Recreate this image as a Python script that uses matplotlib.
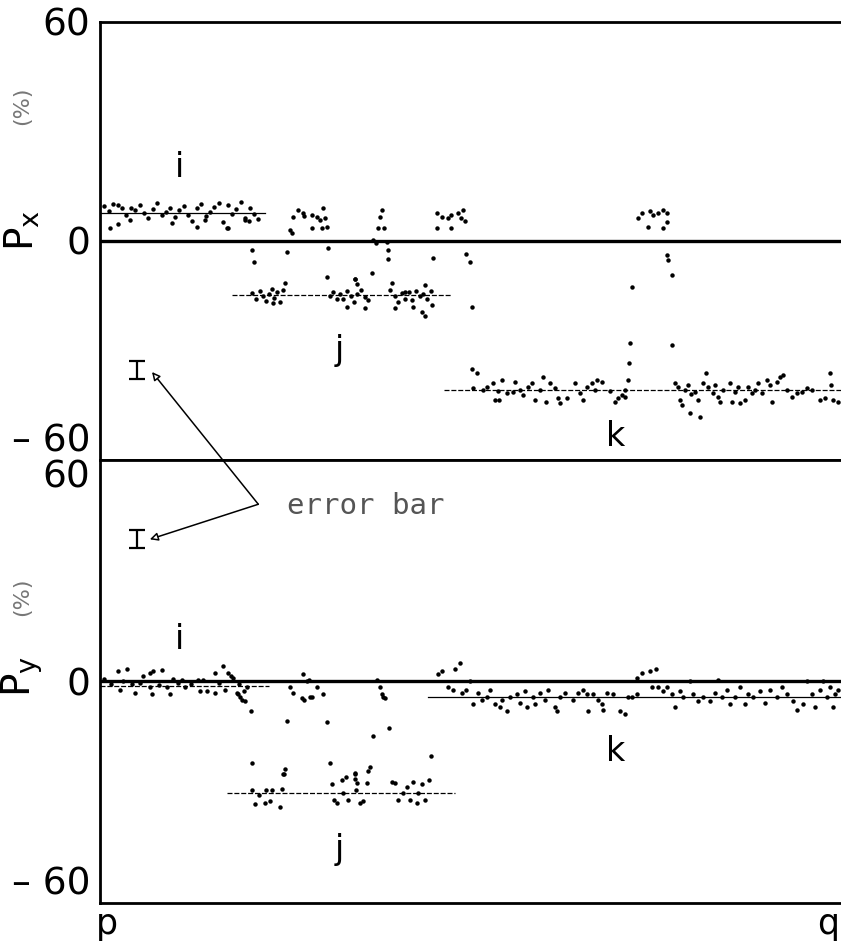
import matplotlib.pyplot as plt

# ---- data (Px, top panel) ----
top_i_x = [0.5, 1.2, 1.8, 2.5, 3.0, 3.6, 4.2, 4.8, 5.4, 6.0, 6.6, 7.2, 7.8, 8.4, 9.0, 9.6, 10.2, 10.8,
           11.4, 12.0, 12.6, 13.2, 13.8, 14.4, 15.0, 15.6, 16.2, 16.8, 17.4, 18.0, 18.6, 19.2, 19.8,
           20.4, 21.0, 21.6, 1.4, 2.5, 4.1, 9.8, 13.2, 14.3, 17.3, 19.8, 20.3]
top_i_y = [9.5, 8.2, 10.1, 9.8, 8.9, 7.1, 9.0, 8.6, 9.9, 7.6, 6.4, 8.8, 10.3, 7.2, 8.0, 9.1, 6.5, 8.4,
           9.7, 7.0, 5.6, 8.9, 10.1, 6.8, 7.9, 9.4, 10.4, 5.2, 9.9, 7.5, 8.7, 10.6, 6.2,
           9.0, 7.4, 6.0, 3.6, 4.7, 5.8, 4.9, 3.8, 5.8, 3.6, 5.8, 5.5]

top_j_x = [20.7, 21.3, 21.8, 22.2, 22.6, 23.0, 23.4, 23.8, 24.2, 24.6, 25.0, 23.6, 25.2,
           31.4, 31.8, 32.3, 32.8, 33.2, 33.7, 34.2, 34.6, 35.1, 35.6, 36.2, 36.6, 33.7, 36.2, 34.8, 35.0,
           39.6, 40.2, 40.7, 41.2, 41.6, 42.1, 42.6, 43.1, 43.6, 44.1, 44.6, 45.1, 40.2, 42.7, 44.0,
           44.3, 45.3, 39.8, 44.3, 41.6]
top_j_y = [-14.2, -15.8, -13.6, -15.0, -16.4, -14.4, -13.2, -15.6, -14.0, -16.8, -13.4, -17.0, -11.5,
           -15.0, -14.0, -15.8, -14.4, -16.0, -13.8, -15.2, -16.6, -14.6, -13.4, -15.4, -16.2, -18.0, -18.4, -10.4, -11.8,
           -13.4, -15.2, -16.8, -14.2, -15.8, -14.0, -16.2, -13.6, -15.0, -14.4, -16.0, -13.8, -18.4, -18.0, -19.5,
           -20.5, -17.5, -11.5, -12.0, -14.0]

top_up_x = [26.3, 27.0, 27.7, 27.9, 28.9, 29.6, 30.0, 30.4, 30.7, 28.9, 30.3, 31.0, 26.2, 25.9,
            38.5, 38.2, 37.9, 38.7, 37.2, 37.6, 39.2, 39.3,
            46.0, 46.6, 47.5, 47.9, 48.8, 49.3, 49.8, 46.0, 47.9, 49.5,
            73.4, 74.0, 75.4, 76.1, 76.8, 77.4, 77.3, 74.8, 76.8, 75.0]
top_up_y = [6.6, 8.5, 7.7, 6.8, 7.1, 6.6, 5.8, 9.0, 6.3, 3.6, 3.6, 3.8, 2.2, 3.0,
            8.5, 6.6, 3.6, 3.6, 0.3, -0.5, -0.3, -2.5,
            7.7, 6.6, 6.3, 7.1, 7.7, 6.3, 5.5, 3.6, 3.6, 8.5,
            6.3, 7.7, 7.1, 7.7, 8.5, 7.7, 5.2, 3.8, 3.6, 8.2]

top_tr_x = [17.5, 20.7, 21.0, 25.5, 31.1, 31.0, 34.8, 37.1, 39.3, 45.4, 50.0, 50.5, 50.7,
            72.6, 72.3, 72.2, 72.0, 77.3, 77.5, 78.0, 78.0]
top_tr_y = [3.6, -2.5, -5.8, -3.0, -1.9, -10.0, -10.4, -8.8, -5.0, -4.7, -3.6, -5.8, -18.0,
            -12.6, -27.9, -33.4, -38.1, -3.8, -5.2, -9.3, -28.5]

top_k_x = [50.7, 51.4, 50.9, 52.3, 52.8, 53.6, 53.9, 54.3, 54.4, 54.8, 55.5, 56.4, 56.6, 57.3, 57.7,
           58.4, 58.9, 59.3, 60.0, 60.5, 60.8, 61.4, 62.1, 62.5, 62.8, 63.7, 64.8, 65.5, 65.9, 66.4,
           67.1, 67.5, 67.8, 68.5, 69.6, 70.3, 70.7, 71.2, 71.6, 71.6,
           78.4, 78.9, 79.1, 79.4, 79.8, 80.2, 80.5, 80.7, 81.2, 81.6, 81.9, 82.3, 82.7, 83.0, 83.7,
           83.9, 84.3, 84.6, 85.0, 85.9, 86.2, 86.6, 87.0, 87.3, 88.0, 88.4, 88.9, 89.4, 89.8, 90.3,
           91.0, 91.4, 91.7, 92.4, 92.8, 93.2, 93.7, 94.4, 95.1, 95.8, 96.5, 97.1, 98.2, 98.9, 99.6,
           99.7, 100.0, 100.7]
top_k_y = [-35.0, -36.2, -40.3, -40.8, -40.0, -38.9, -43.6, -41.1, -43.6, -38.1, -41.6, -41.4, -38.6, -40.8, -42.2,
           -40.0, -38.9, -43.6, -40.8, -37.3, -44.1, -38.9, -40.3, -43.0, -44.4, -43.0, -38.9, -41.6, -43.6, -40.0,
           -38.9, -40.8, -38.1, -38.6, -41.1, -44.1, -43.0, -42.2, -40.8, -42.7,
           -38.9, -40.0, -43.6, -44.9, -40.8, -39.5, -47.1, -42.0, -41.4, -43.6, -48.2, -38.9, -36.2, -40.0, -41.6,
           -39.5, -42.7, -44.1, -40.8, -38.9, -44.1, -41.4, -40.0, -44.4, -43.6, -40.0, -41.6, -40.8, -38.9, -41.6,
           -38.1, -39.5, -44.1, -38.6, -37.3, -36.7, -40.8, -42.7, -41.6, -41.4, -40.3, -40.8, -43.6, -43.0, -36.2,
           -39.5, -43.6, -44.1]

# mean levels and their spans
top_means = [7.7, -14.8, -40.8]
top_spans = [(0, 22.5), (18, 48), (47, 101.1)]
top_styles = ['-', (0, (4, 1.5)), (0, (4, 1.5))]

# ---- data (Py, bottom panel) ----
bot_i_x = [2.5, 3.7, 5.9, 6.8, 7.2, 8.5, 11.2, 13.4, 15.7, 16.8, 17.5, 17.9,
           2.7, 4.8, 6.8, 7.1, 9.1, 9.5, 11.6, 13.6, 14.6, 15.7, 17.0, 18.7, 19.6, 20.1, 19.1,
           0.6, 1.5, 3.2, 4.4, 5.5, 8.0, 10.0, 10.6, 12.4, 14.0, 16.2, 18.2, 19.0, 19.4, 19.8]
bot_i_y = [2.7, 3.3, 1.4, 2.4, 2.7, 3.0, 0.5, 0.5, 2.4, 4.1, 2.4, 1.5,
           -2.2, -3.0, -1.6, -3.5, -1.6, -3.5, -1.6, -2.7, -2.7, -3.0, -2.4, -3.0, -2.7, -1.6, -4.1,
           0.8, -0.6, 0.2, -0.8, -0.3, -0.9, 0.6, -0.5, -0.8, 0.3, -0.4, 1.0, -0.6, -4.9, -5.2]

bot_up_x = [25.9, 26.3, 27.7, 28.2, 28.5, 28.9, 27.6, 29.6, 30.4, 27.9, 28.6, 37.8, 38.2, 38.6, 38.9, 38.5]
bot_up_y = [-1.4, -3.0, 1.9, 0.0, 0.5, -4.3, -4.6, -1.4, -3.5, -4.9, -4.1, 0.5, -1.4, -4.1, -4.6, -3.5]

bot_j_x = [20.7, 21.1, 21.7, 22.5, 22.7, 23.2, 23.5, 24.6, 24.8, 25.0, 25.2, 25.1, 20.7,
           31.6, 31.9, 32.3, 33.0, 33.2, 33.8, 34.8, 35.0, 35.5, 35.9, 36.4, 36.8, 34.9, 31.4, 36.6,
           34.8, 34.8, 33.5,
           39.8, 40.3, 40.7, 41.3, 41.9, 42.3, 42.7, 43.4, 43.9, 44.4, 44.9, 43.2]
bot_j_y = [-29.5, -33.3, -30.7, -32.8, -29.5, -32.5, -29.3, -33.9, -29.0, -25.2, -23.8, -25.1, -22.2,
           -27.9, -32.0, -32.8, -26.6, -30.1, -32.2, -25.2, -27.6, -32.8, -32.5, -27.6, -23.3, -29.5, -22.0, -24.2,
           -24.9, -26.3, -25.9,
           -27.1, -27.6, -32.0, -30.1, -28.5, -32.2, -27.1, -30.1, -27.9, -32.0, -26.6, -32.8]

bot_tr_x = [18.8, 20.6, 25.5, 31.0, 37.2, 39.4, 45.2]
bot_tr_y = [-3.5, -8.1, -10.8, -11.1, -14.9, -12.7, -20.3]

bot_k_x = [46.1, 46.6, 48.4, 49.1, 47.5, 48.2, 49.4, 50.0, 50.5, 50.9,
           51.6, 52.1, 52.8, 53.2, 53.9, 54.6, 54.9, 55.5, 55.9, 56.9,
           57.3, 58.0, 58.3, 59.1, 59.3, 60.0, 60.7, 61.1, 62.1, 62.3,
           62.8, 63.4, 64.5, 65.2, 65.9, 66.4, 66.6, 67.3, 67.9, 68.5,
           68.6, 69.2, 70.0, 70.9, 71.6, 72.0, 72.6, 73.3, 73.3, 74.0,
           75.0, 75.9, 75.3, 76.1, 76.8, 77.3, 78.0, 78.5, 79.1, 79.5,
           80.5, 80.9, 81.6, 82.3, 83.2, 83.9, 84.3, 84.9, 85.5, 85.9,
           86.6, 87.3, 88.0, 88.4, 89.1, 90.0, 90.7, 91.4, 92.4, 93.0,
           93.7, 94.5, 95.1, 95.9, 96.5, 97.1, 97.5, 98.2, 98.6, 99.2,
           99.6, 100.3, 100.7, 100.0]
bot_k_y = [1.9, 2.7, 3.3, 4.9, -1.4, -2.2, -3.0, -2.2, 0.0, -6.2,
           -3.0, -4.9, -4.1, -2.2, -6.2, -7.0, -4.9, -8.1, -4.1, -3.5,
           -5.7, -2.7, -7.0, -4.3, -6.2, -3.0, -4.9, -2.2, -7.0, -8.1,
           -4.1, -3.0, -4.9, -3.0, -2.2, -3.5, -8.1, -3.5, -4.9, -6.2,
           -7.6, -3.0, -3.5, -8.1, -8.9, -4.1, -4.1, -3.5, 1.0, 2.4,
           2.7, 3.3, -1.4, -1.6, -2.7, -1.4, -3.5, -6.8, -2.7, -4.3,
           0.0, -3.5, -5.4, -4.3, -5.4, -3.0, 0.5, -4.3, -2.2, -6.2,
           -4.3, -1.6, -6.2, -3.5, -4.3, -2.7, -5.7, -2.2, -4.1, -1.6,
           -3.5, -5.4, -7.6, -6.2, 0.0, -3.5, -6.8, -2.2, 0.0, -4.3,
           -1.4, -3.5, -2.2, -6.8]

bot_means = [-1.3, -30.1, -4.3]
bot_spans = [(0, 23), (17.3, 48.4), (44.7, 101.1)]
bot_styles = [(0, (4, 1.5)), (0, (4, 1.5)), '-']

# error bars (x, y, half length)
err_top = (5, -35.3, 2.4)
err_bot = (5, 38.5, 2.4)

seg_labels = ['i', 'j', 'k']
top_lab_pos = [(10.9, 20), (32.7, -29.9), (70.3, -53.7)]
bot_lab_pos = [(10.9, 11.4), (32.7, -45.5), (70.3, -19)]

plt.rcParams['font.family'] = 'DejaVu Sans'

fig = plt.figure(figsize=(8.41, 9.47), dpi=100)
ax_t = fig.add_axes([0.1189, 0.5143, 0.8811, 0.4625])
ax_b = fig.add_axes([0.1189, 0.0465, 0.8811, 0.4678])

for ax in (ax_t, ax_b):
    ax.set_xlim(0, 101.1)
    ax.set_ylim(-60, 60)
    ax.spines['right'].set_visible(False)
    for s in ('left', 'top', 'bottom'):
        ax.spines[s].set_linewidth(2)
    ax.axhline(0, color='k', lw=2.4)
    ax.tick_params(length=0, labelsize=27, pad=7)
    ax.set_yticks([60, 0, -60])
    ax.set_yticklabels(['60', '0', '– 60'])


def dots(ax, xs, ys):
    ax.plot(xs, ys, 'o', ms=3.2, color='k', mew=0)


dots(ax_t, top_i_x, top_i_y)
dots(ax_t, top_j_x, top_j_y)
dots(ax_t, top_up_x, top_up_y)
dots(ax_t, top_tr_x, top_tr_y)
dots(ax_t, top_k_x, top_k_y)
for m, (a, b), ls in zip(top_means, top_spans, top_styles):
    ax_t.plot([a, b], [m, m], color='k', lw=0.9, ls=ls)

dots(ax_b, bot_i_x, bot_i_y)
dots(ax_b, bot_up_x, bot_up_y)
dots(ax_b, bot_j_x, bot_j_y)
dots(ax_b, bot_tr_x, bot_tr_y)
dots(ax_b, bot_k_x, bot_k_y)
for m, (a, b), ls in zip(bot_means, bot_spans, bot_styles):
    ax_b.plot([a, b], [m, m], color='k', lw=0.9, ls=ls)

for lab, (x, y) in zip(seg_labels, top_lab_pos):
    ax_t.text(x, y, lab, fontsize=24, ha='center', va='center')
for lab, (x, y) in zip(seg_labels, bot_lab_pos):
    ax_b.text(x, y, lab, fontsize=24, ha='center', va='center')

# tick labels at the shared boundary sit on either side of it
ax_t.set_xticks([])
ax_t.get_yticklabels()[2].set_va('bottom')
ax_b.get_yticklabels()[0].set_va('top')
ax_b.get_yticklabels()[2].set_va('bottom')
ax_b.set_xticks([1, 99.4])
ax_b.set_xticklabels(['p', 'q'])
ax_b.tick_params(axis='x', pad=3, labelsize=25)

# error bars
for ax, (ex, ey, ee) in ((ax_t, err_top), (ax_b, err_bot)):
    ax.errorbar([ex], [ey], yerr=[ee], fmt='none', ecolor='k', elinewidth=1.6,
                capsize=6, capthick=1.6)

arrow = dict(arrowstyle='-|>', fc='white', ec='k', lw=1.1, mutation_scale=12,
             shrinkA=0, shrinkB=0)
ax_b.annotate('', xy=(7.1, -35.9), xycoords=ax_t.transData,
              xytext=(21.6, 48), textcoords='data', arrowprops=arrow,
              annotation_clip=False)
ax_b.annotate('', xy=(6.8, 38.5), xycoords='data',
              xytext=(21.6, 48), textcoords='data', arrowprops=arrow,
              annotation_clip=False)
ax_b.text(36.3, 47.4, 'error bar', fontsize=21, family='DejaVu Sans Mono',
          color='#555555', ha='center', va='center')

# axis titles
fig.text(22 / 841, 1 - 230 / 947, r'$\mathregular{P_x}$', fontsize=28,
         rotation=90, ha='center', va='center')
fig.text(22 / 841, 1 - 106 / 947, '(%)', fontsize=16, color='#777777',
         rotation=90, ha='center', va='center')
fig.text(22 / 841, 1 - 676 / 947, r'$\mathregular{P_y}$', fontsize=28,
         rotation=90, ha='center', va='center')
fig.text(22 / 841, 1 - 597 / 947, '(%)', fontsize=16, color='#777777',
         rotation=90, ha='center', va='center')

fig.savefig('out.png', dpi=100)
